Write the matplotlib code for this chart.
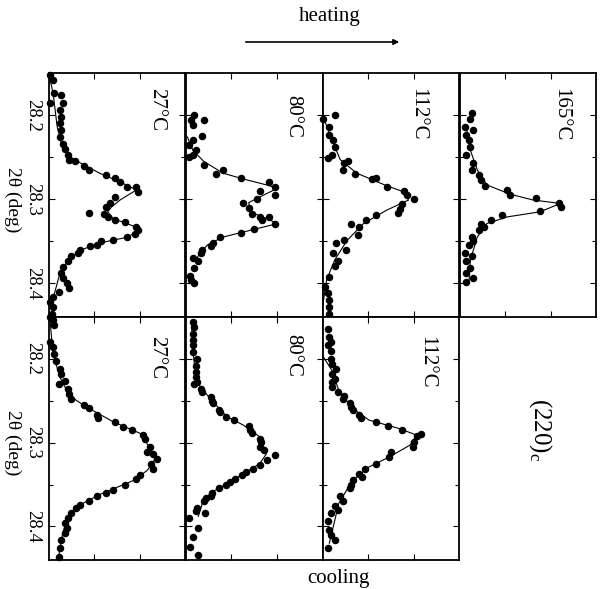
import matplotlib
matplotlib.use("Agg")
import matplotlib.pyplot as plt
from matplotlib.patches import FancyArrowPatch

plt.rcParams["font.family"] = ["Liberation Serif", "DejaVu Serif"]
plt.rcParams["mathtext.fontset"] = "custom"
plt.rcParams["mathtext.rm"] = "Liberation Serif"

W, H = 605, 589

# ---- data: 2theta (deg) and intensity (arb. units, 0-100 per panel) ----
# heating 27 C
h27_tth = [28.152, 28.158, 28.174, 28.186, 28.176, 28.186, 28.194, 28.202, 28.210, 28.218,
           28.226, 28.234, 28.240, 28.248, 28.253, 28.255, 28.261, 28.265, 28.271, 28.275,
           28.279, 28.285, 28.285, 28.291, 28.297, 28.305, 28.309, 28.317, 28.321, 28.325,
           28.327, 28.333, 28.337, 28.341, 28.345, 28.349, 28.350, 28.354, 28.356, 28.360,
           28.364, 28.368, 28.374, 28.380, 28.388, 28.394, 28.400, 28.406, 28.410, 28.416,
           28.422, 28.428, 28.436, 28.316]
h27_int = [0.5, 3, 4, 0.5, 9, 10, 8, 9, 8, 9, 8, 10, 12, 14, 15, 19, 26, 29, 42, 48,
           52, 57, 64, 65, 48, 45, 42, 40, 43, 48, 56, 64, 65, 63, 57, 47, 38, 35, 30, 23,
           21, 16, 14, 10, 9, 10, 13, 15, 7, 3, 0.5, 3, 2, 29]
h27_fit_tth = [28.152, 28.174, 28.214, 28.234, 28.248, 28.257, 28.269, 28.281, 28.289, 28.301,
               28.309, 28.315, 28.323, 28.329, 28.335, 28.345, 28.352, 28.360, 28.372, 28.388,
               28.412, 28.436]
h27_fit_int = [0, 3, 6, 9, 14, 23, 37, 54, 64, 52, 46, 43, 47, 57, 67, 58, 37, 24, 14, 8, 4, 2]

# heating 80 C
h80_tth = [28.200, 28.206, 28.212, 28.206, 28.225, 28.230, 28.236, 28.242, 28.250, 28.248,
           28.259, 28.270, 28.265, 28.275, 28.280, 28.285, 28.290, 28.295, 28.300, 28.305,
           28.311, 28.317, 28.321, 28.321, 28.325, 28.330, 28.336, 28.340, 28.345, 28.352,
           28.356, 28.360, 28.364, 28.370, 28.374, 28.382, 28.391, 28.396, 28.400]
h80_int = [6, 4, 5, 13, 12, 5, 2, 7, 2, 5, 13, 22, 27, 40, 61, 65, 54, 65, 52, 42,
           46, 48, 54, 61, 56, 65, 50, 40, 25, 20, 18, 12, 11, 5, 9, 6, 3, 4, 6]
h80_fit_tth = [28.226, 28.242, 28.255, 28.269, 28.276, 28.283, 28.287, 28.295, 28.304, 28.315,
               28.323, 28.329, 28.335, 28.345, 28.354, 28.364, 28.374]
h80_fit_int = [1, 5, 13, 27, 42, 59, 67, 57, 46, 47, 59, 67, 52, 27, 16, 10, 7]

# heating 112 C
h112_tth = [28.200, 28.205, 28.214, 28.224, 28.230, 28.238, 28.251, 28.248, 28.257, 28.255,
            28.265, 28.270, 28.276, 28.275, 28.285, 28.290, 28.295, 28.300, 28.306, 28.312,
            28.316, 28.319, 28.325, 28.330, 28.333, 28.343, 28.349, 28.352, 28.360, 28.364,
            28.374, 28.379, 28.392, 28.404, 28.412, 28.420, 28.428, 28.436]
h112_int = [9, 0.5, 5, 5, 8, 9, 4, 7, 16, 19, 15, 24, 36, 39, 47, 60, 62, 67, 58, 57,
            55, 39, 32, 21, 27, 26, 16, 10, 17, 8, 11, 9, 5, 2, 4, 5, 5, 5]
h112_fit_tth = [28.202, 28.230, 28.253, 28.269, 28.284, 28.291, 28.301, 28.313, 28.329,
                28.349, 28.372, 28.396, 28.428]
h112_fit_int = [0.5, 7, 13, 25, 47, 59, 63, 47, 30, 18, 9, 3, 0]

# heating 165 C
h165_tth = [28.198, 28.205, 28.214, 28.218, 28.224, 28.230, 28.238, 28.248, 28.257, 28.265,
            28.271, 28.277, 28.284, 28.289, 28.295, 28.299, 28.304, 28.309, 28.314, 28.319,
            28.325, 28.329, 28.333, 28.337, 28.345, 28.350, 28.354, 28.364, 28.368, 28.374,
            28.382, 28.388, 28.394, 28.398]
h165_int = [9, 8, 4, 10, 5, 7, 8, 5, 10, 9, 14, 16, 19, 35, 37, 56, 73, 74, 59, 31,
            23, 16, 18, 14, 9, 10, 7, 4, 9, 5, 8, 5, 10, 5]
h165_fit_tth = [28.214, 28.242, 28.265, 28.283, 28.294, 28.301, 28.305, 28.315, 28.321,
                28.329, 28.345, 28.372, 28.396]
h165_fit_int = [5, 8, 13, 20, 37, 54, 74, 59, 35, 20, 13, 8, 7]

# cooling 27 C
c27_tth = [28.150, 28.154, 28.160, 28.180, 28.186, 28.194, 28.202, 28.212, 28.218, 28.230,
           28.226, 28.236, 28.242, 28.248, 28.255, 28.259, 28.267, 28.271, 28.275, 28.281,
           28.285, 28.291, 28.295, 28.305, 28.311, 28.313, 28.319, 28.325, 28.331, 28.339,
           28.343, 28.350, 28.356, 28.360, 28.364, 28.370, 28.374, 28.378, 28.384, 28.390,
           28.396, 28.402, 28.408, 28.416, 28.426, 28.436]
c27_int = [0.5, 3, 4, 0.5, 3, 4, 5, 8, 9, 7, 12, 14, 15, 16, 26, 29, 35, 36, 48, 54,
           61, 69, 70, 74, 72, 76, 79, 75, 76, 67, 64, 56, 47, 42, 35, 29, 23, 20, 16, 14,
           12, 13, 12, 9, 8, 7]
c27_fit_tth = [28.150, 28.194, 28.222, 28.244, 28.257, 28.275, 28.289, 28.309, 28.319,
               28.333, 28.345, 28.362, 28.374, 28.388, 28.408, 28.436]
c27_fit_int = [0.5, 3, 8, 15, 27, 47, 67, 75, 78, 72, 62, 37, 23, 14, 10, 7]

# cooling 80 C
c80_tth = [28.156, 28.162, 28.170, 28.178, 28.184, 28.192, 28.200, 28.208, 28.216, 28.222,
           28.228, 28.230, 28.236, 28.240, 28.246, 28.250, 28.253, 28.261, 28.263, 28.269,
           28.273, 28.280, 28.285, 28.289, 28.295, 28.299, 28.305, 28.309, 28.315, 28.321,
           28.327, 28.331, 28.335, 28.339, 28.343, 28.347, 28.350, 28.354, 28.360, 28.364,
           28.366, 28.370, 28.378, 28.382, 28.384, 28.390, 28.402, 28.412, 28.424, 28.434]
c80_int = [5, 6, 5, 5, 5, 5, 8, 7, 7, 7, 8, 6, 11, 12, 18, 19, 20, 24, 25, 29,
           35, 46, 47, 48, 54, 55, 54, 57, 65, 59, 54, 49, 44, 41, 36, 32, 29, 24, 19, 18,
           15, 13, 8, 7, 14, 2, 9, 5, 3, 9]
c80_fit_tth = [28.156, 28.190, 28.218, 28.232, 28.250, 28.269, 28.279, 28.293, 28.313,
               28.325, 28.347, 28.358, 28.372, 28.388]
c80_fit_int = [4, 5, 7, 10, 19, 30, 42, 54, 59, 54, 32, 20, 12, 9]

# cooling 112 C
c112_tth = [28.164, 28.174, 28.180, 28.184, 28.190, 28.200, 28.206, 28.212, 28.218, 28.224,
            28.228, 28.234, 28.240, 28.244, 28.248, 28.253, 28.257, 28.261, 28.267, 28.271,
            28.275, 28.280, 28.285, 28.292, 28.290, 28.299, 28.305, 28.311, 28.317, 28.325,
            28.331, 28.337, 28.341, 28.345, 28.350, 28.354, 28.364, 28.370, 28.376, 28.380,
            28.384, 28.394, 28.404, 28.410, 28.416, 28.426]
c112_int = [4, 5, 6, 4, 6, 6, 7, 10, 7, 9, 7, 7, 11, 16, 15, 20, 21, 22, 27, 28,
            39, 48, 58, 69, 72, 67, 66, 50, 49, 39, 31, 27, 29, 22, 21, 20, 13, 15, 9, 11,
            6, 4, 5, 6, 9, 4]
c112_fit_tth = [28.196, 28.214, 28.238, 28.259, 28.273, 28.283, 28.291, 28.303, 28.317,
                28.329, 28.345, 28.372, 28.420]
c112_fit_int = [0, 7, 12, 22, 34, 56, 69, 64, 49, 34, 22, 12, 5]

temps = ["27°C", "80°C", "112°C", "165°C"]

# ---- layout (pixel boxes of the panels) ----
col_x = [49, 186, 322.5, 459.5]
col_w = 136.5
row_y = [(73, 317), (317, 560)]

panels = [
    (0, 0, h27_tth, h27_int, h27_fit_tth, h27_fit_int, temps[0], (0.79, 0.85)),
    (1, 0, h80_tth, h80_int, h80_fit_tth, h80_fit_int, temps[1], (0.78, 0.82)),
    (2, 0, h112_tth, h112_int, h112_fit_tth, h112_fit_int, temps[2], (0.70, 0.83)),
    (3, 0, h165_tth, h165_int, h165_fit_tth, h165_fit_int, temps[3], (0.74, 0.83)),
    (0, 1, c27_tth, c27_int, c27_fit_tth, c27_fit_int, temps[0], (0.79, 0.835)),
    (1, 1, c80_tth, c80_int, c80_fit_tth, c80_fit_int, temps[1], (0.78, 0.84)),
    (2, 1, c112_tth, c112_int, c112_fit_tth, c112_fit_int, temps[2], (0.765, 0.815)),
]

fig = plt.figure(figsize=(W / 100, H / 100), dpi=100)

for col, row, tth, inten, ftth, fint, label, (lx, ly) in panels:
    x0 = col_x[col]
    y0, y1 = row_y[row]
    ax = fig.add_axes([x0 / W, 1 - y1 / H, col_w / W, (y1 - y0) / H])
    ax.plot(fint, ftth, color="k", lw=0.8, zorder=2)
    ax.plot(inten, tth, "o", color="k", ms=4.4, mec="k", zorder=3, clip_on=False)
    ax.set_xlim(0, 100)
    ax.set_ylim(28.44, 28.15)
    ax.set_yticks([28.2, 28.3, 28.4])
    ax.set_yticks([28.25, 28.35], minor=True)
    ax.set_xticks([33, 67])
    ax.tick_params(axis="both", which="both", direction="in", top=True, right=True,
                   labelbottom=False, width=0.8)
    ax.tick_params(which="major", length=4)
    ax.tick_params(which="minor", length=3)
    for s in ax.spines.values():
        s.set_linewidth(1.3)
    if col == 0:
        ax.set_yticklabels(["28.2", "28.3", "28.4"])
        ax.tick_params(axis="y", labelrotation=270, labelsize=13.5, pad=6)
        for t in ax.get_yticklabels():
            t.set_verticalalignment("center")
    else:
        ax.tick_params(axis="y", labelleft=False)
    ax.text(lx, ly, label, transform=ax.transAxes, rotation=270, fontsize=15,
            ha="center", va="center")

# axis titles (2theta runs vertically, rotated page)
fig.text(13 / W, 1 - 200 / H, "2θ (deg)", rotation=270, fontsize=14,
         ha="center", va="center")
fig.text(13 / W, 1 - 443 / H, "2θ (deg)", rotation=270, fontsize=14,
         ha="center", va="center")

fig.text(330 / W, 1 - 16 / H, "heating", fontsize=15, ha="center", va="center")
fig.add_artist(FancyArrowPatch((243 / W, 1 - 42 / H), (402 / W, 1 - 42 / H),
                               transform=fig.transFigure, arrowstyle="-|>",
                               mutation_scale=8, lw=1.2, color="k"))
fig.text(338 / W, 1 - 578 / H, "cooling", fontsize=15, ha="center", va="center")
fig.text(540 / W, 1 - 430 / H, "(220)$_{\\mathrm{c}}$", rotation=270, fontsize=18,
         ha="center", va="center")

fig.savefig("out.png", dpi=100)
